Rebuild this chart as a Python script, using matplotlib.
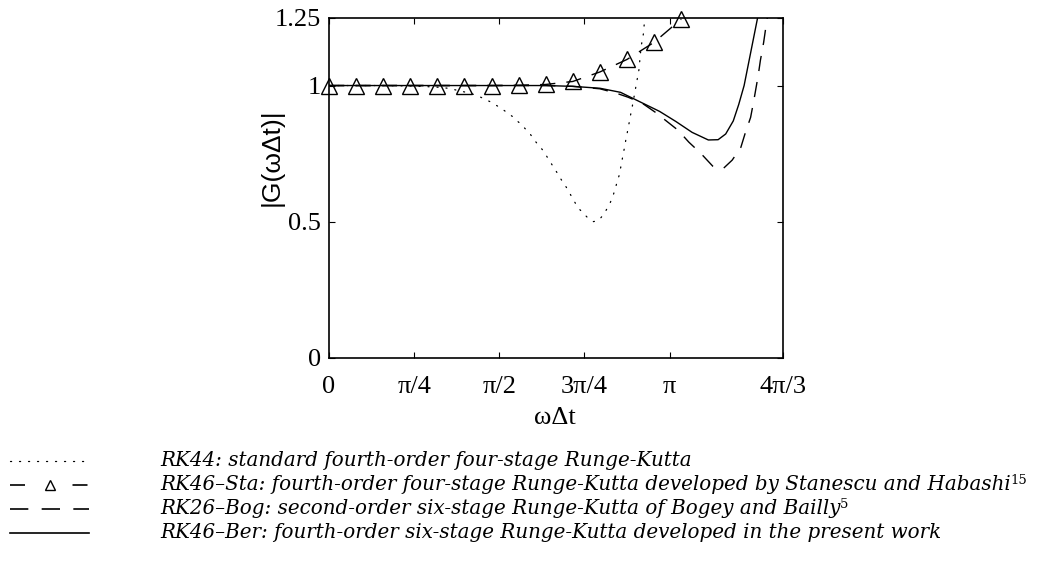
import numpy as np
import matplotlib
matplotlib.use("Agg")
import matplotlib.pyplot as plt
from matplotlib.lines import Line2D

# ---- data ----
theta_rk44 = [0, 0.5, 0.8, 1.0, 1.10, 1.31, 1.40, 1.50, 1.59, 1.69, 1.77, 1.85, 1.91, 1.98,
              2.03, 2.09, 2.14, 2.20, 2.25, 2.30, 2.38, 2.44, 2.49, 2.54, 2.59, 2.62, 2.65,
              2.68, 2.70, 2.72, 2.74, 2.76, 2.78, 2.80, 2.82, 2.84, 2.86, 2.87, 2.88, 2.90,
              2.91, 2.93]
g_rk44 = [1.0, 1.0, 0.998, 0.994, 0.990, 0.971, 0.957, 0.938, 0.916, 0.887, 0.858, 0.825,
          0.792, 0.759, 0.726, 0.689, 0.656, 0.620, 0.583, 0.550, 0.517, 0.500, 0.505, 0.530,
          0.565, 0.594, 0.634, 0.674, 0.718, 0.759, 0.803, 0.843, 0.887, 0.927, 0.971, 1.015,
          1.059, 1.103, 1.144, 1.188, 1.232, 1.27]

theta_sta = [0, 0.25, 0.5, 0.75, 1.0, 1.25, 1.5, 1.75, 2.0, 2.25, 2.5, 2.75, 3.0, 3.25]
g_sta = [1.0, 1.0, 1.0, 1.0, 1.0, 1.0, 1.0, 1.001, 1.004, 1.015, 1.05, 1.096, 1.159, 1.244]

theta_bog = [0, 2.0, 2.25, 2.5, 2.65, 2.76, 2.89, 3.01, 3.22, 3.32, 3.43, 3.54, 3.59, 3.64,
             3.72, 3.80, 3.84, 3.89, 3.92, 3.96, 3.98, 4.01, 4.03, 4.04, 4.06]
g_bog = [1.0, 1.0, 0.997, 0.988, 0.972, 0.957, 0.935, 0.902, 0.836, 0.792, 0.751, 0.704,
         0.696, 0.696, 0.726, 0.773, 0.825, 0.883, 0.946, 1.037, 1.092, 1.158, 1.213, 1.239,
         1.29]

theta_ber = [0, 1.5, 2.0, 2.25, 2.5, 2.69, 2.87, 3.05, 3.2, 3.35, 3.5, 3.59, 3.66, 3.73,
             3.78, 3.83, 3.87, 3.91, 3.94, 3.96, 3.98]
g_ber = [1.0, 1.0, 1.0, 0.997, 0.990, 0.975, 0.940, 0.905, 0.868, 0.828, 0.800, 0.801,
         0.822, 0.870, 0.930, 1.0, 1.08, 1.16, 1.22, 1.26, 1.33]

xtick_vals = [0, np.pi / 4, np.pi / 2, 3 * np.pi / 4, np.pi, 4 * np.pi / 3]
xtick_labels = ['0', 'π/4', 'π/2', '3π/4', 'π', '4π/3']
ytick_vals = [0, 0.5, 1, 1.25]
ytick_labels = ['0', '0.5', '1', '1.25']

legend_labels = [
    'RK44: standard fourth-order four-stage Runge-Kutta',
    'RK46–Sta: fourth-order four-stage Runge-Kutta developed by Stanescu and Habashi',
    'RK26–Bog: second-order six-stage Runge-Kutta of Bogey and Bailly',
    'RK46–Ber: fourth-order six-stage Runge-Kutta developed in the present work',
]
legend_refs = ['', '15', '5', '']

W, H = 1054, 570
fig = plt.figure(figsize=(W / 100, H / 100), dpi=100)
ax = fig.add_axes([329 / W, 1 - 357.7 / H, (783 - 329) / W, (357.7 - 17.5) / H])

serif = 'Liberation Serif'
dot_style = (0, (0.9, 6.3))
dash_style = (0, (11, 8))

l1, = ax.plot(theta_rk44, g_rk44, color='black', lw=0.9, linestyle=dot_style,
              dash_capstyle='round')
l2, = ax.plot(theta_sta, g_sta, color='black', lw=1.0, linestyle=dash_style,
              marker='^', markersize=12, markerfacecolor='none', markeredgecolor='black',
              markeredgewidth=1.0, clip_on=False)
l3, = ax.plot(theta_bog, g_bog, color='black', lw=1.0, linestyle=dash_style)
l4, = ax.plot(theta_ber, g_ber, color='black', lw=1.0)

ax.set_xlim(0, 4 * np.pi / 3)
ax.set_ylim(0, 1.25)
ax.set_xticks(xtick_vals)
ax.set_xticklabels(xtick_labels, fontfamily=serif, fontsize=19)
ax.set_yticks(ytick_vals)
ax.set_yticklabels(ytick_labels, fontfamily=serif, fontsize=19)
ax.tick_params(direction='in', length=4, width=0.8, top=True, right=True)
ax.tick_params(axis='x', pad=13)
ax.tick_params(axis='y', pad=6)
for s in ax.spines.values():
    s.set_linewidth(1.2)

fig.text(555 / W, 1 - 418 / H, 'ωΔt', fontfamily=serif, fontsize=19, ha='center', va='center')
fig.text(272 / W, 1 - 157 / H, '|G(ωΔt)|', fontfamily='Liberation Sans', fontsize=19,
         rotation=90, ha='center', va='center')

# legend: style samples + labels, laid out by hand below the axes
sample_styles = [
    dict(lw=0.9, linestyle=dot_style, dash_capstyle='round'),
    dict(lw=1.2, linestyle=(0, (9, 28.5)), marker='^', markersize=7, markevery=[1],
         markerfacecolor='none', markeredgecolor='black', markeredgewidth=1.0),
    dict(lw=1.2, linestyle=dash_style),
    dict(lw=1.2, linestyle='-'),
]
row_y0, row_pitch = 466, 24
x_h0, x_h1, x_txt = 10, 89, 160
fig.canvas.draw()
renderer = fig.canvas.get_renderer()
for i, (lab, ref, st) in enumerate(zip(legend_labels, legend_refs, sample_styles)):
    yb = row_y0 + i * row_pitch          # baseline, pixels from top
    yf = 1 - yb / H
    yl = 1 - (yb - 5) / H
    fig.add_artist(Line2D([x_h0 / W, (x_h0 + x_h1) / 2 / W, x_h1 / W], [yl, yl, yl],
                          color='black', transform=fig.transFigure, **st))
    t = fig.text(x_txt / W, yf, lab, fontfamily='DejaVu Serif', style='italic',
                 fontsize=14.3, ha='left', va='baseline')
    if ref:
        bb = t.get_window_extent(renderer)
        fig.text((bb.x1 - 0.5) / W, 1 - (yb - 6.5) / H, ref, fontfamily='DejaVu Serif',
                 fontsize=9.5, ha='left', va='baseline')

fig.savefig('out.png', dpi=100)
